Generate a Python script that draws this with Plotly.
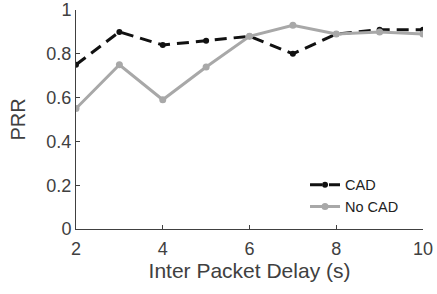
import plotly.graph_objects as go

delay = [2, 3, 4, 5, 6, 7, 8, 9, 10]
prr_cad = [0.75, 0.90, 0.84, 0.86, 0.88, 0.80, 0.89, 0.91, 0.91]
prr_nocad = [0.55, 0.75, 0.59, 0.74, 0.88, 0.93, 0.89, 0.90, 0.89]
x_ticks = [2, 4, 6, 8, 10]
y_ticks = [0, 0.2, 0.4, 0.6, 0.8, 1]
y_tick_labels = ["0", "0.2", "0.4", "0.6", "0.8", "1"]

font_family = "Liberation Sans, Arial, sans-serif"
fig = go.Figure()
fig.add_trace(go.Scatter(
    x=delay, y=prr_cad, name="CAD", mode="lines+markers",
    line=dict(color="#111111", width=3, dash="12px,7px"),
    marker=dict(symbol="circle", size=6, color="#111111"),
))
fig.add_trace(go.Scatter(
    x=delay, y=prr_nocad, name="No CAD", mode="lines+markers",
    line=dict(color="#a8a8a8", width=3),
    marker=dict(symbol="circle", size=7, color="#a8a8a8"),
))
fig.update_layout(
    width=437, height=294,
    margin=dict(l=76, r=14, t=10, b=65),
    paper_bgcolor="white", plot_bgcolor="white",
    font=dict(family=font_family, color="#404040", size=18),
    showlegend=True,
    legend=dict(x=0.66, y=0.275, xanchor="left", yanchor="top",
                bgcolor="rgba(0,0,0,0)", font=dict(size=14.5, color="#222222"),
                tracegroupgap=0, itemwidth=30),
    xaxis=dict(range=[2, 10], tickvals=x_ticks, ticks="inside", ticklen=4,
               showline=True, linecolor="#404040", linewidth=1, showgrid=False,
               zeroline=False, automargin=False, ticklabelstandoff=3,
               title=dict(text="Inter Packet Delay (s)", font=dict(size=21), standoff=4),
               tickcolor="#404040"),
    yaxis=dict(range=[0, 1], tickvals=y_ticks, ticktext=y_tick_labels, ticks="inside", ticklen=4,
               showline=True, linecolor="#404040", linewidth=1, showgrid=False,
               zeroline=False, automargin=False,
               title=dict(text="PRR", font=dict(size=20)),
               tickcolor="#404040"),
)
fig.write_html("out.html", config={"displayModeBar": False},
               post_script="document.body.style.margin='0';")
